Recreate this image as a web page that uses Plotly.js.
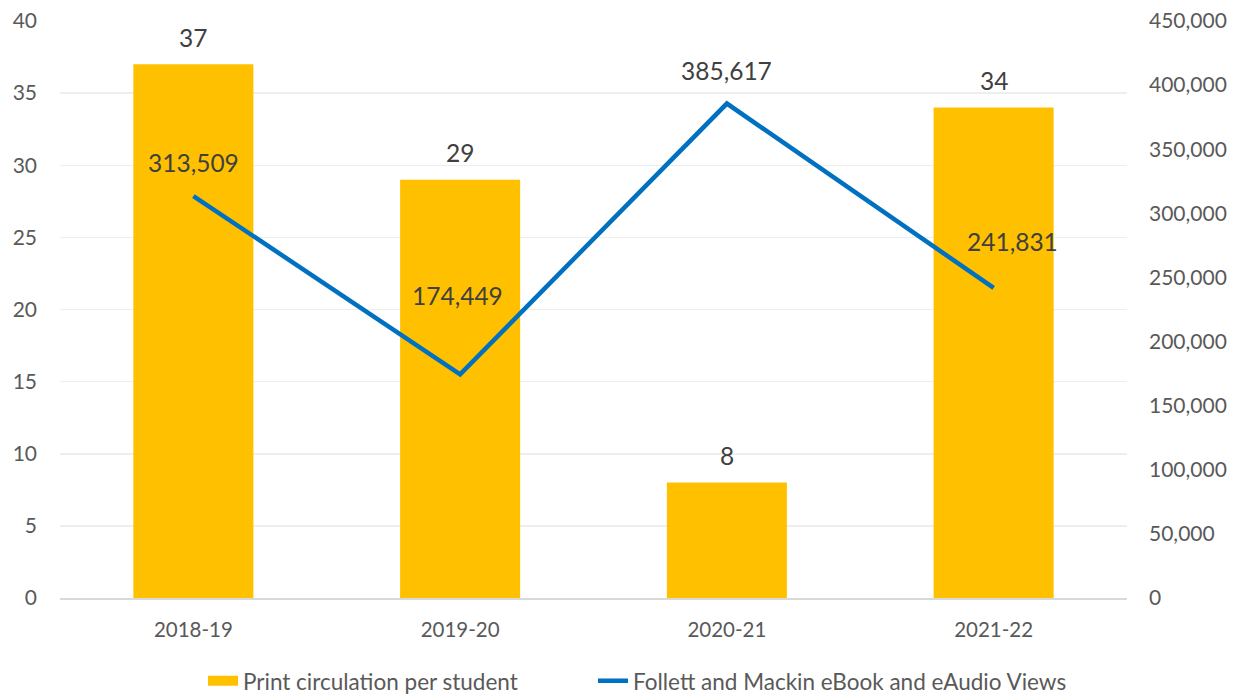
<!DOCTYPE html>
<html>
<head>
<meta charset="utf-8">
<script src="https://cdn.plot.ly/plotly-3.0.1.min.js"></script>
<style>html,body{margin:0;padding:0;background:#fff;}#chart{width:1237px;height:695px;}</style>
</head>
<body>
<div id="chart"></div>
<script>
var categories = ["2018-19", "2019-20", "2020-21", "2021-22"];
var printCirculation = [37, 29, 8, 34];
var ebookViews = [313509, 174449, 385617, 241831];
var barName = "Print circulation per student";
var lineName = "Follett and Mackin eBook and eAudio Views";

var fontFamily = "Lato, 'Open Sans', sans-serif";
var textColor = "#595959";
var labelColor = "#404040";
var barColor = "#FFC000";
var lineColor = "#0070C0";

var traces = [
  {
    type: "bar", x: categories, y: printCirculation, name: barName,
    marker: {color: barColor}, width: 0.45, showlegend: false, hoverinfo: "skip"
  },
  {
    // legend-only entry so the bar swatch is drawn as a wide block like the original
    type: "scatter", mode: "lines", x: [null], y: [null], name: barName,
    line: {color: barColor, width: 14}, hoverinfo: "skip", legend: "legend"
  },
  {
    type: "scatter", mode: "lines", x: categories, y: ebookViews, name: lineName,
    yaxis: "y2", line: {color: lineColor, width: 4.5}, hoverinfo: "skip", legend: "legend2"
  }
];

var annotations = [];
printCirculation.forEach(function (v, i) {
  annotations.push({
    x: categories[i], y: v, xref: "x", yref: "y",
    text: String(v), showarrow: false, yshift: 27,
    font: {family: fontFamily, size: 24.5, color: labelColor}
  });
});
var offsets = [[0, 34], [-3, 79], [0, 33], [19, 46]];
ebookViews.forEach(function (v, i) {
  annotations.push({
    x: categories[i], y: v, xref: "x", yref: "y2",
    text: v.toLocaleString("en-US"), showarrow: false,
    xshift: offsets[i][0], yshift: offsets[i][1],
    font: {family: fontFamily, size: 24.5, color: labelColor}
  });
});

var legendBase = {orientation: "h", xanchor: "left", xref: "container",
                  y: 0.02, yanchor: "middle", yref: "container",
                  font: {family: fontFamily, size: 22.5, color: textColor}};

var layout = {
  width: 1237, height: 695,
  margin: {l: 60, r: 110, t: 21, b: 97},
  paper_bgcolor: "#fff", plot_bgcolor: "#fff",
  font: {family: fontFamily, color: textColor, size: 20},
  showlegend: true,
  legend: Object.assign({}, legendBase, {x: 203 / 1237}),
  legend2: Object.assign({}, legendBase, {x: 593 / 1237}),
  xaxis: {type: "category", showgrid: false, zeroline: false, showline: true,
          linecolor: "#d9d9d9", linewidth: 2, ticks: "", ticklabelstandoff: 12,
          tickfont: {family: fontFamily, size: 20.5, color: textColor}},
  yaxis: {range: [0, 40], dtick: 5, showgrid: true, gridcolor: "#eeeeee", gridwidth: 1.5,
          zeroline: false, showline: false, ticks: "", ticklabelstandoff: 22,
          tickfont: {family: fontFamily, size: 21, color: textColor}},
  yaxis2: {range: [0, 450000], dtick: 50000, overlaying: "y", side: "right",
           showgrid: false, zeroline: false, showline: false, ticks: "",
           tickformat: ",d", ticklabelstandoff: 21,
           tickfont: {family: fontFamily, size: 21, color: textColor}},
  annotations: annotations
};

Plotly.newPlot("chart", traces, layout, {displayModeBar: false, staticPlot: true});
</script>
</body>
</html>
